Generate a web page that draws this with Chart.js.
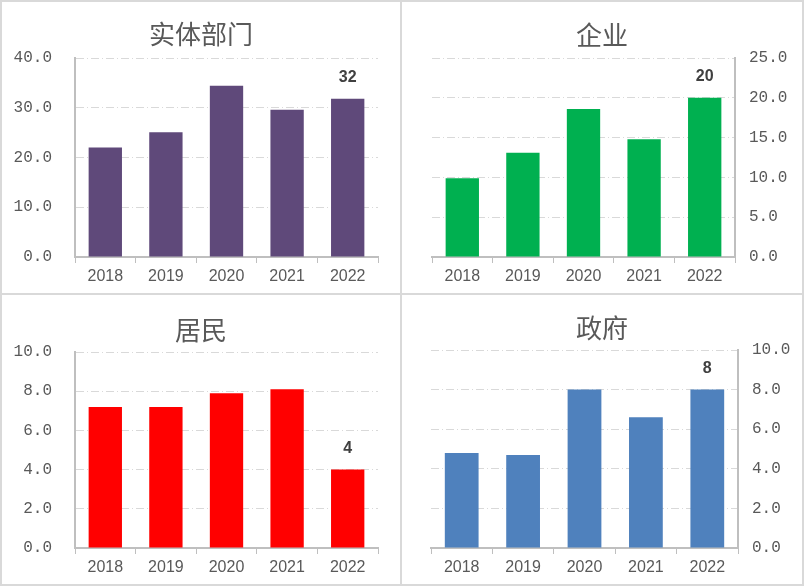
<!DOCTYPE html>
<html>
<head>
<meta charset="utf-8">
<script src="https://cdn.jsdelivr.net/npm/chart.js@4/dist/chart.umd.min.js"></script>
<style>
  body { margin: 0; background: #fff; }
  .frame { position: absolute; background: #d9d9d9; }
  .panel { position: absolute; }
</style>
</head>
<body>
<!-- panel borders -->
<div class="frame" style="left:0;top:0;width:804px;height:2px"></div>
<div class="frame" style="left:0;top:584px;width:804px;height:2px"></div>
<div class="frame" style="left:0;top:293px;width:804px;height:2px"></div>
<div class="frame" style="left:0;top:0;width:2px;height:586px"></div>
<div class="frame" style="left:400px;top:0;width:2px;height:586px"></div>
<div class="frame" style="left:802px;top:0;width:2px;height:586px"></div>

<div class="panel" style="left:2px;top:2px;width:398px;height:291px"><canvas id="c1"></canvas></div>
<div class="panel" style="left:402px;top:2px;width:400px;height:291px"><canvas id="c2"></canvas></div>
<div class="panel" style="left:2px;top:295px;width:398px;height:289px"><canvas id="c3"></canvas></div>
<div class="panel" style="left:402px;top:295px;width:400px;height:289px"><canvas id="c4"></canvas></div>

<script>
var years = ['2018', '2019', '2020', '2021', '2022'];

var realSector = [22.0, 25.1, 34.4, 29.6, 31.8];
var enterprise = [9.9, 13.1, 18.6, 14.8, 20.0];
var household = [7.2, 7.2, 7.9, 8.1, 4.0];
var government = [4.8, 4.7, 8.0, 6.6, 8.0];

var titles = ['实体部门', '企业', '居民', '政府'];

var gridColor = '#d9d9d9';
var axisColor = '#bfbfbf';
var textColor = '#595959';

// title drawn at the middle of each panel
var panelTitle = {
    id: 'panelTitle',
    afterDraw: function (chart, args, opts) {
        var ctx = chart.ctx;
        ctx.save();
        ctx.font = '26px "Noto Sans CJK SC"';
        ctx.fillStyle = textColor;
        ctx.textAlign = 'center';
        ctx.textBaseline = 'middle';
        ctx.fillText(opts.text, chart.width / 2, opts.y);
        ctx.restore();
    }
};

// value label over the last bar only
var lastLabel = {
    id: 'lastLabel',
    afterDatasetsDraw: function (chart) {
        var meta = chart.getDatasetMeta(0);
        var data = chart.data.datasets[0].data;
        var i = data.length - 1;
        var bar = meta.data[i];
        var ctx = chart.ctx;
        ctx.save();
        ctx.font = 'bold 16px "Liberation Sans"';
        ctx.fillStyle = '#404040';
        ctx.textAlign = 'center';
        ctx.textBaseline = 'middle';
        ctx.fillText(String(Math.round(data[i])), bar.x, bar.y - 21);
        ctx.restore();
    }
};

function makeChart(id, values, color, title, opt) {
    var yAxis = {
        position: opt.side,
        min: 0,
        max: opt.max,
        afterFit: function (s) { s.width = opt.yWidth; },
        grid: {
            color: gridColor,
            lineWidth: 1,
            drawTicks: false
        },
        border: { display: true, color: axisColor, width: 2, dash: [8, 3, 1, 3] },
        ticks: {
            stepSize: opt.step,
            padding: opt.side === 'left' ? 23 : 14,
            color: textColor,
            font: { family: '"Liberation Mono"', size: 16 },
            callback: function (v) { return v.toFixed(1); }
        }
    };

    return new Chart(document.getElementById(id), {
        type: 'bar',
        data: {
            labels: years,
            datasets: [{
                data: values,
                backgroundColor: color,
                barPercentage: 0.55,
                categoryPercentage: 1
            }]
        },
        options: {
            responsive: true,
            maintainAspectRatio: false,
            animation: false,
            layout: { padding: { top: opt.top, left: opt.left, right: opt.right, bottom: 0 } },
            plugins: {
                legend: { display: false },
                tooltip: { enabled: false },
                panelTitle: { text: title, y: opt.titleY }
            },
            scales: {
                x: {
                    afterFit: function (s) { s.height = 36; },
                    grid: {
                        drawOnChartArea: false,
                        drawTicks: true,
                        tickLength: 6,
                        color: axisColor,
                        lineWidth: 1
                    },
                    border: { display: true, color: axisColor, width: 2 },
                    ticks: {
                        padding: 4,
                        color: textColor,
                        font: { family: '"Liberation Sans"', size: 16 }
                    }
                },
                y: yAxis
            }
        },
        plugins: [panelTitle, lastLabel]
    });
}

makeChart('c1', realSector, '#5f497a', titles[0],
    { side: 'left', max: 40, step: 10, yWidth: 73, top: 56, left: 0, right: 22, titleY: 32 });
makeChart('c2', enterprise, '#00b050', titles[1],
    { side: 'right', max: 25, step: 5, yWidth: 67, top: 56, left: 30, right: 0, titleY: 33 });
makeChart('c3', household, '#ff0000', titles[2],
    { side: 'left', max: 10, step: 2, yWidth: 73, top: 57, left: 0, right: 22, titleY: 35 });
makeChart('c4', government, '#4f81bd', titles[3],
    { side: 'right', max: 10, step: 2, yWidth: 64, top: 55, left: 29, right: 0, titleY: 33 });
</script>
</body>
</html>
